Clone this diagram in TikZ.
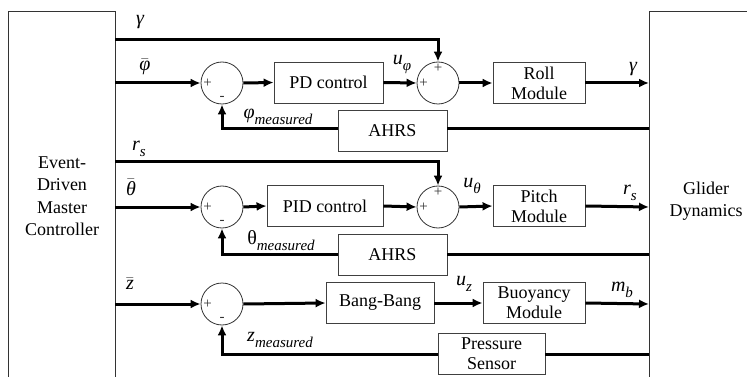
\documentclass[tikz,border=0pt]{standalone}
\usepackage{amsmath}
\usepackage{fontspec}
\setmainfont{Liberation Serif}
\newfontfamily\tnr{Liberation Serif}
\usetikzlibrary{arrows.meta}
\newcommand{\mi}[1]{{\tnr\itshape #1}}
\newcommand{\msub}[2]{\mi{#1}\raisebox{-0.3em}{\fontsize{15}{15}\selectfont\tnr\itshape #2}}
\begin{document}
\begin{tikzpicture}[x=1pt,y=-1pt,
  blk/.style={draw=black!75,line width=0.8pt,minimum height=41pt,align=center,inner sep=0pt,font=\tnr\fontsize{18}{20}\selectfont},
  sumj/.style={circle,draw=black!80,line width=0.8pt,minimum size=42pt,inner sep=0pt},
  sig/.style={line width=3pt,-{Latex[length=10pt,width=9pt]}},
  sigp/.style={line width=3pt},
  lab/.style={font=\tnr\fontsize{20}{20}\selectfont,inner sep=0pt},
  sgn/.style={font=\tnr\fontsize{15}{15}\selectfont,inner sep=0pt,text=black!80}]
\useasboundingbox (0,0) rectangle (747,377);
% big boxes
\draw[black!80,line width=0.8pt] (8,400) -- (8,11) -- (115,11) -- (115,400);
\draw[black!80,line width=0.8pt] (760,11) -- (649,11) -- (649,400);
\node[align=center,inner sep=0pt,font=\tnr\fontsize{18}{22.5}\selectfont] (edmc) at (62,196) {Event-\\Driven\\Master\\Controller};
\node[align=center,inner sep=0pt,font=\tnr\fontsize{18}{22.5}\selectfont] (gd) at (706,201) {Glider\\Dynamics};
% ---------- row 1
\node[sumj] (s1) at (222,83) {};
\node[sumj] (s2) at (438,83) {};
\node[blk,minimum width=109pt] (pd) at (328.5,82.5) {PD control};
\node[blk,minimum width=92pt] (roll) at (539,83) {Roll\\Module};
\node[blk,minimum width=109pt] (ahrs1) at (392.5,130.5) {AHRS};
\node[sgn] at ([xshift=7pt]s1.west) {+};
\node[sgn] at ([yshift=6pt]s1.south) {-};
\node[sgn] at ([xshift=7pt]s2.west) {+};
\node[sgn] at ([yshift=-7pt]s2.north) {+};
\coordinate (g0) at (115,40);
\coordinate (p0) at (115,83);
\draw[sig] (g0) -| (s2.north);
\draw[sig] (p0) -- (s1.west);
\draw[sig] (s1.east) -- (pd.west);
\draw[sig] (pd.east) -- (s2.west);
\draw[sig] (s2.east) -- (roll.west);
\coordinate (r1) at (649,83);
\draw[sig] (roll.east) -- (r1);
\coordinate (f1) at (649,129);
\draw[sigp] (f1) -- (ahrs1.east |- f1);
\draw[sig] (ahrs1.west |- f1) -| (s1.south);
\node[lab] (lg1) at (140,22) {\mi{γ}};
\node[lab] (lphi) at (145,67) {$\bar{\text{\mi{φ}}}$};
\node[lab] (lpm) at (278,117) {\msub{φ}{measured}};
\node[lab] (luphi) at (402,65) {\msub{u}{φ}};
\node[lab] (lg2) at (633,69) {\mi{γ}};
% ---------- row 2
\node[sumj] (s3) at (222,207) {};
\node[sumj] (s4) at (438,207) {};
\node[blk,minimum width=116pt] (pid) at (325,206) {PID control};
\node[blk,minimum width=92pt] (pitch) at (539,206) {Pitch\\Module};
\node[blk,minimum width=109pt] (ahrs2) at (392.5,254.5) {AHRS};
\node[sgn] at ([xshift=7pt]s3.west) {+};
\node[sgn] at ([yshift=6pt]s3.south) {-};
\node[sgn] at ([xshift=7pt]s4.west) {+};
\node[sgn] at ([yshift=-7pt]s4.north) {+};
\coordinate (rs0) at (115,162);
\coordinate (t0) at (115,207);
\draw[sig] (rs0) -| (s4.north);
\draw[sig] (t0) -- (s3.west);
\draw[sig] (s3.east) -- (pid.west);
\draw[sig] (pid.east) -- (s4.west);
\draw[sig] (s4.east) -- (pitch.west);
\coordinate (r2) at (649,207);
\draw[sig] (pitch.east) -- (r2);
\coordinate (f2) at (649,254);
\draw[sigp] (f2) -- (ahrs2.east |- f2);
\draw[sig] (ahrs2.west |- f2) -| (s3.south);
\node[lab] (lrs1) at (139,149) {\msub{r}{s}};
\node[lab] (lth) at (131,187) {$\bar{\text{\mi{θ}}}$};
\node[lab] (ltm) at (281,241) {θ\raisebox{-0.3em}{\fontsize{15}{15}\selectfont\itshape measured}};
\node[lab] (luth) at (472,186) {\msub{u}{θ}};
\node[lab] (lrs2) at (630,193) {\msub{r}{s}};
% ---------- row 3
\node[sumj] (s5) at (222,304) {};
\node[blk,minimum width=108pt] (bb) at (380,303) {Bang-Bang};
\node[blk,minimum width=102pt] (buoy) at (534,303) {Buoyancy\\Module};
\node[blk,minimum width=107pt] (ps) at (491.5,353.5) {Pressure\\Sensor};
\node[sgn] at ([xshift=7pt]s5.west) {+};
\node[sgn] at ([yshift=6pt]s5.south) {-};
\coordinate (z0) at (115,304);
\draw[sig] (z0) -- (s5.west);
\draw[sig] (s5.east) -- (bb.west);
\draw[sig] (bb.east) -- (buoy.west);
\coordinate (r3) at (649,304);
\draw[sig] (buoy.east) -- (r3);
\coordinate (f3) at (649,354);
\draw[sigp] (f3) -- (ps.east |- f3);
\draw[sig] (ps.west |- f3) -| (s5.south);
\node[lab] (lz) at (130,284) {$\bar{\text{\mi{z}}}$};
\node[lab] (luz) at (464,284) {\msub{u}{z}};
\node[lab] (lmb) at (622,290) {\msub{m}{b}};
\node[lab] (lzm) at (280,340) {\msub{z}{measured}};
\end{tikzpicture}
\end{document}
